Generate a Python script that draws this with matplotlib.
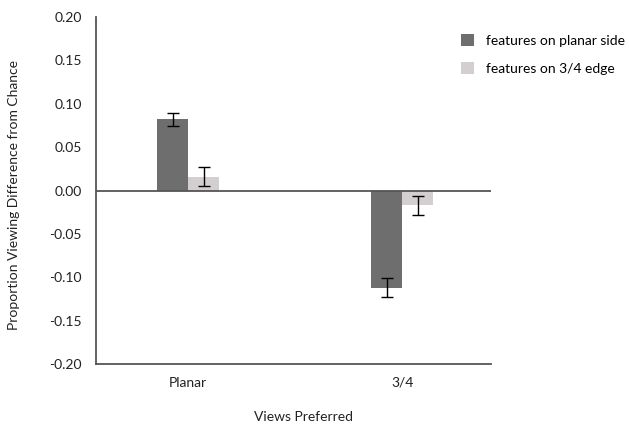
import matplotlib.pyplot as plt
import numpy as np

groups = ["Planar", "3/4"]
series = ["features on planar side", "features on 3/4 edge"]
planar_side = [0.082, -0.112]
planar_err = [0.0075, 0.011]
edge_side = [0.016, -0.017]
edge_err = [0.011, 0.011]
yticks = [-0.20, -0.15, -0.10, -0.05, 0.00, 0.05, 0.10, 0.15, 0.20]

plt.rcParams['font.family'] = ['Lato', 'DejaVu Sans']

fig = plt.figure(figsize=(6.29, 4.28), dpi=100)
ax = fig.add_axes([0.1526, 0.1495, 0.781 - 0.1526, 0.960 - 0.1495])

x = np.arange(len(groups))
w = 0.145
ax.bar(x - w / 2, planar_side, w, color="#6e6e6e", label=series[0])
ax.bar(x + w / 2, edge_side, w, color="#d3cfd0", label=series[1])
ax.errorbar(x - w / 2, planar_side, yerr=planar_err, fmt="none", ecolor="black", elinewidth=1, capsize=4.5, capthick=1)
ax.errorbar(x + w / 2, edge_side, yerr=edge_err, fmt="none", ecolor="black", elinewidth=1, capsize=4.5, capthick=1)

ax.axhline(0, color="#555555", linewidth=1.3, zorder=3)
ax.set_xlim(-0.43, 1.416)
ax.set_ylim(-0.20, 0.20)
ax.set_yticks(yticks)
ax.set_yticklabels(["%.2f" % v for v in yticks], fontsize=10, color="#222222")
ax.set_xticks(x)
ax.set_xticklabels(groups, fontsize=10, color="#222222")
ax.tick_params(axis="both", length=0)
ax.tick_params(axis="y", pad=10)
ax.tick_params(axis="x", pad=9)

for s in ["top", "right"]:
    ax.spines[s].set_visible(False)
for s in ["left", "bottom"]:
    ax.spines[s].set_color("#555555")
    ax.spines[s].set_linewidth(1.3)

fig.text(0.022, 1 - 195 / 428, "Proportion Viewing Difference from Chance", rotation=90,
         ha="center", va="center", fontsize=10, color="#222222")
fig.text(303 / 629, 1 - 417 / 428, "Views Preferred", ha="center", va="center", fontsize=10, color="#222222")

fig.legend(loc="upper left", bbox_to_anchor=(455 / 629, 1 - 28 / 428), frameon=False, fontsize=10,
           handlelength=1.0, handleheight=1.0, labelspacing=1.1, handletextpad=0.8, borderaxespad=0)

fig.savefig("out.png", dpi=100)
